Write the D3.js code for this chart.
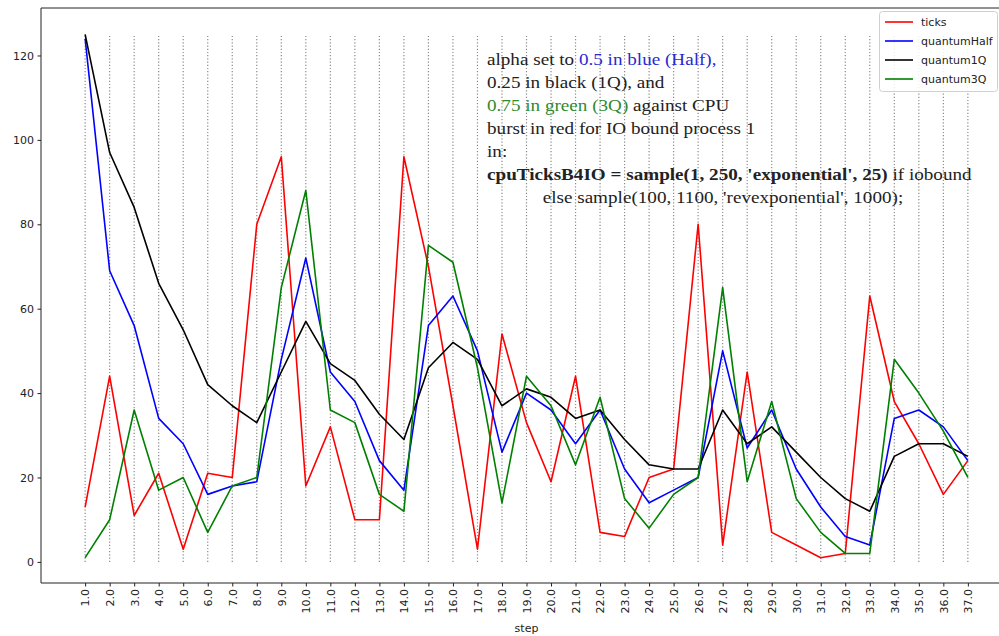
<!DOCTYPE html>
<html>
<head>
<meta charset="utf-8">
<script src="https://cdn.jsdelivr.net/npm/d3@7"></script>
<style>
  body { margin: 0; background: #fff; }
  svg { display: block; }
  .tick text { font-family: "DejaVu Sans", sans-serif; font-size: 11px; fill: #222; }
  .note { font-family: "Liberation Serif", "Times New Roman", serif; font-size: 16.5px; fill: #222; }
  .legend text { font-family: "DejaVu Sans", sans-serif; font-size: 11px; fill: #222; }
</style>
</head>
<body>
<svg width="999" height="636"></svg>
<script>
const steps = [1, 2, 3, 4, 5, 6, 7, 8, 9, 10, 11, 12, 13, 14, 15, 16, 17, 18, 19,
  20, 21, 22, 23, 24, 25, 26, 27, 28, 29, 30, 31, 32, 33, 34, 35, 36, 37];

const ticks = [13, 44, 11, 21, 3, 21, 20, 80, 96, 18, 32, 10, 10, 96, 70, 37, 3, 54, 33,
  19, 44, 7, 6, 20, 22, 80, 4, 45, 7, 4, 1, 2, 63, 38, 28, 16, 24];
const quantumHalf = [124, 69, 56, 34, 28, 16, 18, 19, 48, 72, 45, 38, 24, 17, 56, 63, 50, 26, 40,
  36, 28, 36, 22, 14, 17, 20, 50, 27, 36, 22, 13, 6, 4, 34, 36, 32, 24];
const quantum1Q = [125, 97, 84, 66, 55, 42, 37, 33, 45, 57, 47, 43, 35, 29, 46, 52, 48, 37, 41,
  39, 34, 36, 29, 23, 22, 22, 36, 28, 32, 26, 20, 15, 12, 25, 28, 28, 25];
const quantum3Q = [1, 10, 36, 17, 20, 7, 18, 20, 65, 88, 36, 33, 16, 12, 75, 71, 46, 14, 44,
  37, 23, 39, 15, 8, 16, 20, 65, 19, 38, 15, 7, 2, 2, 48, 40, 31, 20];

const seriesNames = ["ticks", "quantumHalf", "quantum1Q", "quantum3Q"];
const seriesColors = ["#ff0000", "#0000ff", "#000000", "#008000"];
const yTickValues = [0, 20, 40, 60, 80, 100, 120];
const gridTop = 125;

const svg = d3.select("svg");
const margin = { top: 8, left: 41, right: -13, bottom: 53 };
const w = +svg.attr("width") - margin.left - margin.right;
const h = +svg.attr("height") - margin.top - margin.bottom;

const x = d3.scaleLinear().domain([1 - 1.8, 37 + 1.8]).range([margin.left, margin.left + w]);
const y = d3.scaleLinear().domain([-5, 131.25]).range([margin.top + h, margin.top]);

// dotted vertical guides at every step
svg.append("g")
  .selectAll("line")
  .data(steps)
  .enter().append("line")
    .attr("x1", d => x(d)).attr("x2", d => x(d))
    .attr("y1", y(0)).attr("y2", y(gridTop))
    .attr("stroke", "#8a8a8a")
    .attr("stroke-width", 1.2)
    .attr("stroke-dasharray", "1.2,2");

const series = [ticks, quantumHalf, quantum1Q, quantum3Q];
const line = d3.line().x((d, i) => x(steps[i])).y(d => y(d));

svg.append("g")
  .selectAll("path")
  .data(series)
  .enter().append("path")
    .attr("d", line)
    .attr("fill", "none")
    .attr("stroke", (d, i) => seriesColors[i])
    .attr("stroke-width", 1.6)
    .attr("stroke-linejoin", "round");

// axes
const xAxis = svg.append("g")
  .attr("transform", `translate(0, ${margin.top + h})`)
  .call(d3.axisBottom(x).tickValues(steps).tickFormat(d3.format(".1f")).tickSizeOuter(0).tickSize(3.5));
xAxis.selectAll("text")
  .attr("transform", "rotate(-90)")
  .attr("text-anchor", "end")
  .attr("x", -6).attr("y", 0).attr("dy", "0.35em");

const yAxis = svg.append("g")
  .attr("transform", `translate(${margin.left}, 0)`)
  .call(d3.axisLeft(y).tickValues(yTickValues).tickSizeOuter(0).tickSize(3.5));
yAxis.selectAll("text").attr("x", -7);

svg.selectAll(".domain").remove();
svg.selectAll(".tick line").attr("stroke", "#222");

// frame (right edge falls outside the picture)
svg.append("path")
  .attr("d", `M${x.range()[1]},${margin.top} H${margin.left} V${margin.top + h} H${x.range()[1]}`)
  .attr("fill", "none")
  .attr("stroke", "#222")
  .attr("stroke-width", 1);

svg.append("text")
  .attr("x", (x.range()[0] + x.range()[1]) / 2)
  .attr("y", 632)
  .attr("text-anchor", "middle")
  .style("font-family", "DejaVu Sans, sans-serif")
  .style("font-size", "11px")
  .attr("fill", "#222")
  .text("step");

// annotation, stretched sideways like the original
const noteLines = [
  [["alpha set to ", null], ["0.5 in blue (Half),", "#2a2ad0"]],
  [["0.25 in black (1Q), and", null]],
  [["0.75 in green (3Q)", "#2e8b2e"], [" against CPU", null]],
  [["burst in red for IO bound process 1", null]],
  [["in:", null]],
  [["cpuTicksB4IO = sample(1, 250, 'exponential', 25)", null, "bold"], [" if iobound", null]],
  [["else sample(100, 1100, 'revexponential', 1000);", null]]
];

const note = svg.append("text")
  .attr("class", "note")
  .attr("transform", "translate(487, 0) scale(1.16, 1)");
noteLines.forEach((parts, li) => {
  parts.forEach((p, pi) => {
    const t = note.append("tspan").text(p[0]);
    if (pi === 0) t.attr("x", li === 6 ? 48 : 0).attr("y", 65 + li * 23);
    if (p[1]) t.attr("fill", p[1]);
    if (p[2]) t.attr("font-weight", p[2]);
  });
});

// legend
const legend = svg.append("g").attr("class", "legend");
legend.append("rect")
  .attr("x", 879.5).attr("y", 11.5)
  .attr("width", 118).attr("height", 80)
  .attr("rx", 3)
  .attr("fill", "#fff").attr("fill-opacity", 0.85)
  .attr("stroke", "#d0d0d0");

const item = legend.selectAll("g.item")
  .data(seriesNames)
  .enter().append("g")
    .attr("class", "item")
    .attr("transform", (d, i) => `translate(885, ${22 + i * 19})`);

item.append("line")
  .attr("x1", 0).attr("x2", 28)
  .attr("stroke", (d, i) => seriesColors[i])
  .attr("stroke-width", 1.6);

item.append("text")
  .attr("x", 36).attr("dy", "0.35em")
  .text(d => d);
</script>
</body>
</html>
